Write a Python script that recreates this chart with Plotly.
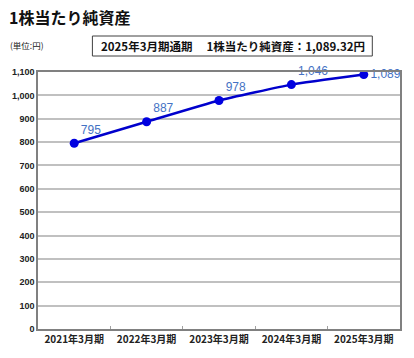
import plotly.graph_objects as go

categories = ["2021年3月期", "2022年3月期", "2023年3月期", "2024年3月期", "2025年3月期"]
values = [795, 887, 978, 1046, 1089]
labels = ["795", "887", "978", "1,046", "1,089"]
label_pos = ["top right", "top right", "top right", "top right", "middle right"]
title_text = "1株当たり純資産"
unit_text = "(単位:円)"
box_text = "2025年3月期通期　 1株当たり純資産：1,089.32円"

W, H = 414, 358
L, R, T, B = 35, 13, 72, 29
pw, ph = W - L - R, H - T - B

def px(x):
    return (x - L) / pw

def py(y):
    return (H - B - y) / ph

JP = "Noto Sans CJK JP"

fig = go.Figure()
fig.add_trace(go.Scatter(
    x=categories, y=values, mode="lines+markers+text",
    line=dict(color="#0000CC", width=2.5, shape="spline", smoothing=0.4),
    marker=dict(color="#0000E0", size=9),
    text=labels, textposition=label_pos,
    textfont=dict(color="#4472C4", size=12, family="Arial, Liberation Sans"),
    cliponaxis=False, hoverinfo="skip",
))

fig.update_layout(
    width=W, height=H, margin=dict(l=L, r=R, t=T, b=B),
    paper_bgcolor="white", plot_bgcolor="white", showlegend=False,
    font=dict(family=JP, color="#222222"),
    xaxis=dict(type="category", range=[-0.5, 4.5], showgrid=False,
               showline=True, linecolor="#808080", linewidth=1.5, mirror=True,
               ticks="inside", tickson="boundaries", ticklen=3, tickcolor="#A0A0A0",
               tickfont=dict(size=10, family=JP, weight="bold", color="#222222")),
    yaxis=dict(range=[0, 1100], dtick=100, tickformat=",d",
               showgrid=True, gridcolor="#C0C0C0", gridwidth=1.5,
               showline=True, linecolor="#808080", linewidth=1.5, mirror=True,
               zeroline=False, ticks="",
               tickfont=dict(size=9, family="Arial, Liberation Sans", weight="bold", color="#222222")),
    shapes=[dict(type="rect", xref="paper", yref="paper",
                 x0=px(90), x1=px(373), y0=py(56), y1=py(36),
                 line=dict(color="#404040", width=1), fillcolor="white", layer="above")],
    annotations=[
        dict(text=title_text, xref="paper", yref="paper", x=px(4), y=py(17),
             xanchor="left", yanchor="middle", showarrow=False,
             font=dict(size=16, family=JP, weight="bold", color="#111111")),
        dict(text=unit_text, xref="paper", yref="paper", x=px(5), y=py(45),
             xanchor="left", yanchor="middle", showarrow=False,
             font=dict(size=8.5, family=JP, color="#222222")),
        dict(text=box_text, xref="paper", yref="paper", x=px(232), y=py(46),
             xanchor="center", yanchor="middle", showarrow=False,
             font=dict(size=11.5, family=JP, weight="bold", color="#111111")),
    ],
)

fig.write_html("out.html")
